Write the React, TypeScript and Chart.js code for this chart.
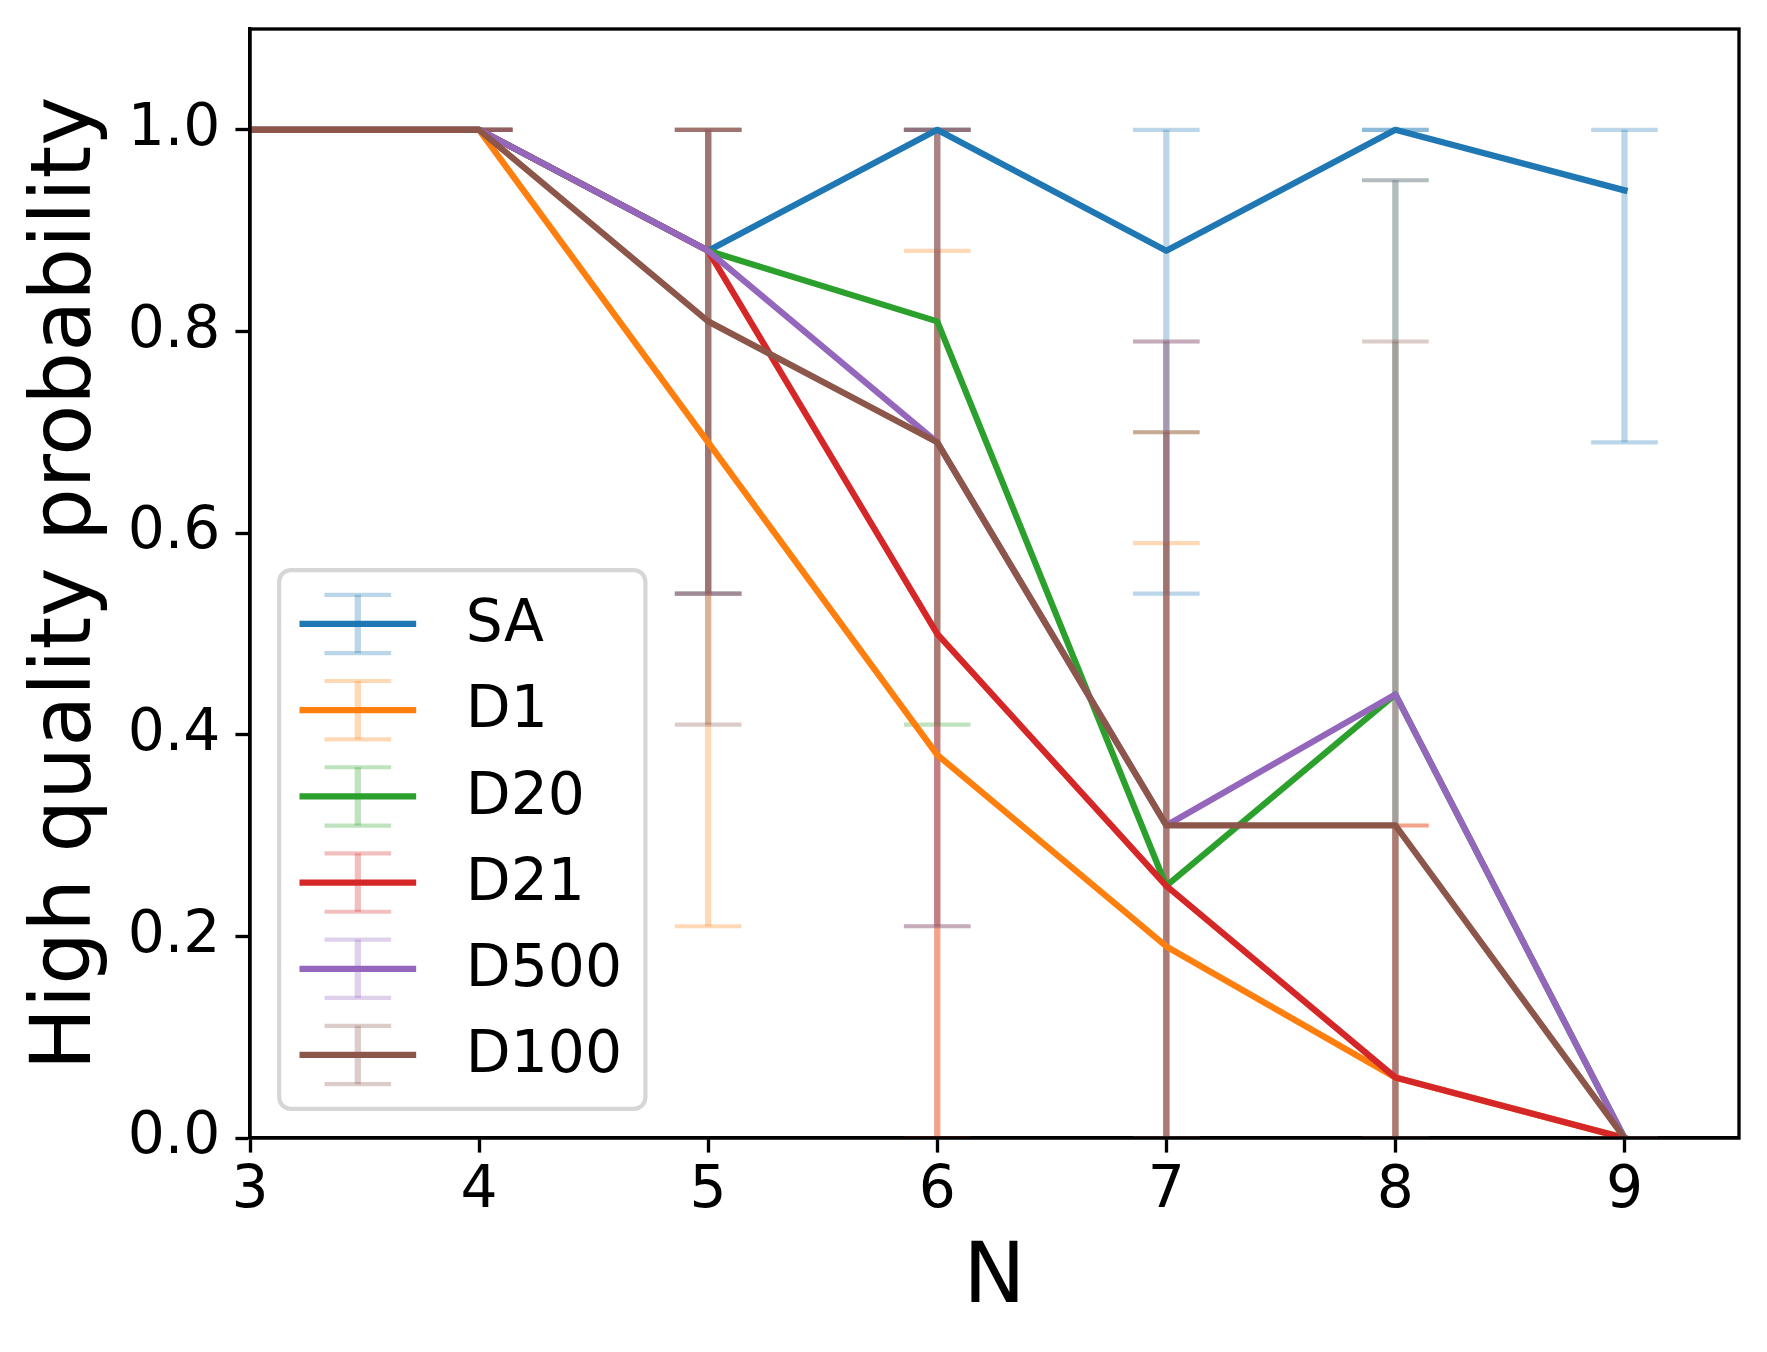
import React, { useEffect, useRef } from 'react';
import { Chart, registerables } from 'chart.js';

Chart.register(...registerables);

// ---------- data ----------
const xValues = [3, 4, 5, 6, 7, 8, 9];
const xTickValues = [3, 4, 5, 6, 7, 8, 9];
const yTickValues = [0, 0.2, 0.4, 0.6, 0.8, 1.0];

const seriesNames = ['SA', 'D1', 'D20', 'D21', 'D500', 'D100'];
const seriesColors = ['#1f77b4', '#ff7f0e', '#2ca02c', '#d62728', '#9467bd', '#8c564b'];

const saMean = [1, 1, 0.88, 1, 0.88, 1, 0.94];
const saLow = [1, 1, 0.54, 1, 0.54, 1, 0.69];
const saHigh = [1, 1, 1, 1, 1, 1, 1];

const d1Mean = [1, 1, 0.69, 0.38, 0.19, 0.06, 0];
const d1Low = [1, 1, 0.21, 0, 0, 0, 0];
const d1High = [1, 1, 1, 0.88, 0.59, 0.31, 0];

const d20Mean = [1, 1, 0.88, 0.81, 0.25, 0.44, 0];
const d20Low = [1, 1, 0.54, 0.41, 0, 0, 0];
const d20High = [1, 1, 1, 1, 0.7, 0.95, 0];

const d21Mean = [1, 1, 0.88, 0.5, 0.25, 0.06, 0];
const d21Low = [1, 1, 0.54, 0, 0, 0, 0];
const d21High = [1, 1, 1, 1, 0.7, 0.31, 0];

const d500Mean = [1, 1, 0.88, 0.69, 0.31, 0.44, 0];
const d500Low = [1, 1, 0.54, 0.21, 0, 0, 0];
const d500High = [1, 1, 1, 1, 0.79, 0.95, 0];

const d100Mean = [1, 1, 0.81, 0.69, 0.31, 0.31, 0];
const d100Low = [1, 1, 0.41, 0.21, 0, 0, 0];
const d100High = [1, 1, 1, 1, 0.79, 0.79, 0];

const means = [saMean, d1Mean, d20Mean, d21Mean, d500Mean, d100Mean];
const lows = [saLow, d1Low, d20Low, d21Low, d500Low, d100Low];
const highs = [saHigh, d1High, d20High, d21High, d500High, d100High];

// ---------- style constants (matplotlib @300dpi) ----------
const PT = 300 / 72;
const LINE_W = 1.5 * PT;
const SPINE_W = 0.8 * PT;
const CAP = 8 * PT;
const CAP_THICK = 1.0 * PT;
const TICK_FONT = 14 * PT;
const LABEL_FONT = 20 * PT;
const FONT_FAMILY = '"DejaVu Sans", "Liberation Sans", sans-serif';

function hexA(hex: string, a: number) {
  const r = parseInt(hex.slice(1, 3), 16);
  const g = parseInt(hex.slice(3, 5), 16);
  const b = parseInt(hex.slice(5, 7), 16);
  return `rgba(${r},${g},${b},${a})`;
}

const errorBarPlugin = {
  id: 'errorBars',
  beforeDatasetsDraw(chart: any) {
    const { ctx, chartArea, scales } = chart;
    const xs = scales.x;
    const ys = scales.y;
    ctx.save();
    ctx.beginPath();
    ctx.rect(chartArea.left, chartArea.top, chartArea.right - chartArea.left, chartArea.bottom - chartArea.top);
    ctx.clip();
    for (let s = 0; s < seriesNames.length; s++) {
      const col = hexA(seriesColors[s], 0.3);
      ctx.strokeStyle = col;
      for (let j = 0; j < xValues.length; j++) {
        const px = xs.getPixelForValue(xValues[j]);
        const pLo = ys.getPixelForValue(lows[s][j]);
        const pHi = ys.getPixelForValue(highs[s][j]);
        ctx.lineCap = 'butt';
        ctx.lineWidth = LINE_W;
        ctx.beginPath();
        ctx.moveTo(px, pLo);
        ctx.lineTo(px, pHi);
        ctx.stroke();
      }
      for (let j = 0; j < xValues.length; j++) {
        const px = xs.getPixelForValue(xValues[j]);
        const pLo = ys.getPixelForValue(lows[s][j]);
        const pHi = ys.getPixelForValue(highs[s][j]);
        ctx.lineWidth = CAP_THICK;
        for (const py of [pLo, pHi]) {
          ctx.beginPath();
          ctx.moveTo(px - CAP, py);
          ctx.lineTo(px + CAP, py);
          ctx.stroke();
        }
      }
    }
    ctx.restore();
  },
  afterDatasetsDraw(chart: any) {
    const { ctx, chartArea } = chart;
    ctx.save();
    ctx.strokeStyle = '#000';
    ctx.lineWidth = SPINE_W;
    ctx.lineJoin = 'miter';
    ctx.strokeRect(chartArea.left, chartArea.top, chartArea.right - chartArea.left, chartArea.bottom - chartArea.top);
    ctx.restore();
  },
  afterDraw(chart: any) {
    const { ctx, chartArea } = chart;
    const fs = TICK_FONT;
    const pad = 0.5 * fs;
    const borderPad = 0.4 * fs;
    const handleLen = 2.0 * fs;
    const handleTextPad = 0.8 * fs;
    const rowH = 86.2;
    ctx.save();
    ctx.font = `${fs}px ${FONT_FAMILY}`;
    let maxW = 0;
    for (const n of seriesNames) maxW = Math.max(maxW, ctx.measureText(n).width);
    const boxLeft = chartArea.left + pad;
    const boxBottom = chartArea.bottom - pad;
    const boxH = rowH * seriesNames.length + 2 * borderPad - 0.5 * fs + 4;
    const boxTop = boxBottom - boxH;
    const boxW = borderPad * 2 + handleLen + handleTextPad + maxW;
    const r = 0.2 * fs;
    ctx.beginPath();
    ctx.roundRect(boxLeft, boxTop, boxW, boxH, r);
    ctx.fillStyle = 'rgba(255,255,255,0.8)';
    ctx.fill();
    ctx.lineWidth = 1.0 * PT;
    ctx.strokeStyle = 'rgba(204,204,204,0.8)';
    ctx.stroke();

    const hx0 = boxLeft + borderPad - 3;
    const hx1 = hx0 + handleLen;
    const hxc = (hx0 + hx1) / 2;
    const firstY = boxTop + borderPad + 0.5 * rowH - 0.25 * fs + 2;
    for (let i = 0; i < seriesNames.length; i++) {
      const cy = firstY + i * rowH;
      const c = seriesColors[i];
      ctx.strokeStyle = hexA(c, 0.3);
      ctx.lineWidth = LINE_W;
      ctx.lineCap = 'butt';
      ctx.beginPath();
      ctx.moveTo(hxc, cy - 0.5 * fs);
      ctx.lineTo(hxc, cy + 0.5 * fs);
      ctx.stroke();
      ctx.lineWidth = CAP_THICK;
      for (const py of [cy - 0.5 * fs, cy + 0.5 * fs]) {
        ctx.beginPath();
        ctx.moveTo(hxc - CAP, py);
        ctx.lineTo(hxc + CAP, py);
        ctx.stroke();
      }
      ctx.strokeStyle = c;
      ctx.lineWidth = LINE_W;
      ctx.beginPath();
      ctx.moveTo(hx0, cy);
      ctx.lineTo(hx1, cy);
      ctx.stroke();
      ctx.fillStyle = '#000';
      ctx.textAlign = 'left';
      ctx.textBaseline = 'middle';
      ctx.fillText(seriesNames[i], hx1 + handleTextPad + 3, cy + 2);
    }
    ctx.restore();
  },
};

export default function App() {
  const canvasRef = useRef<HTMLCanvasElement | null>(null);

  useEffect(() => {
    const canvas = canvasRef.current;
    if (!canvas) return;
    const n = seriesNames.length;
    const datasets = seriesNames.map((name, s) => ({
      label: name,
      data: xValues.map((x, j) => ({ x, y: means[s][j] })),
      borderColor: seriesColors[s],
      backgroundColor: seriesColors[s],
      borderWidth: LINE_W,
      borderJoinStyle: 'round' as const,
      borderCapStyle: 'square' as const,
      pointRadius: 0,
      pointHoverRadius: 0,
      fill: false,
      tension: 0,
      clip: 0,
      order: n - s,
    }));

    const chart = new Chart(canvas, {
      type: 'line',
      data: { datasets },
      plugins: [errorBarPlugin],
      options: {
        animation: false,
        responsive: false,
        devicePixelRatio: 1,
        events: [],
        layout: { padding: { left: 0, top: 29, right: 28, bottom: 0 } },
        plugins: {
          legend: { display: false },
          tooltip: { enabled: false },
          title: { display: false },
        },
        scales: {
          x: {
            type: 'linear',
            min: 3,
            max: 9.5,
            afterFit: (scale: any) => {
              scale.height = 214;
              scale.paddingLeft = 0;
              scale.paddingRight = 0;
            },
            afterBuildTicks: (scale: any) => {
              scale.ticks = xTickValues.map((v) => ({ value: v }));
            },
            ticks: {
              autoSkip: false,
              maxRotation: 0,
              minRotation: 0,
              padding: 4,
              color: '#000',
              font: { family: FONT_FAMILY, size: TICK_FONT, lineHeight: 1.2 },
              callback: (v: any) => String(v),
            },
            grid: {
              drawOnChartArea: false,
              drawTicks: true,
              tickLength: 3.5 * PT,
              tickWidth: SPINE_W,
              tickColor: '#000',
            },
            border: { display: true, color: '#000', width: SPINE_W },
            title: {
              display: true,
              text: 'N',
              color: '#000',
              font: { family: FONT_FAMILY, size: LABEL_FONT, lineHeight: 1.2 },
              padding: { top: 0, bottom: 22 },
            },
          },
          y: {
            type: 'linear',
            min: 0,
            max: 1.1,
            afterFit: (scale: any) => {
              scale.width = 250;
              scale.paddingTop = 0;
              scale.paddingBottom = 0;
            },
            afterBuildTicks: (scale: any) => {
              scale.ticks = yTickValues.map((v) => ({ value: v }));
            },
            ticks: {
              padding: 15,
              color: '#000',
              font: { family: FONT_FAMILY, size: TICK_FONT, lineHeight: 1.2 },
              callback: (v: any) => Number(v).toFixed(1),
            },
            grid: {
              drawOnChartArea: false,
              drawTicks: true,
              tickLength: 3.5 * PT,
              tickWidth: SPINE_W,
              tickColor: '#000',
            },
            border: { display: true, color: '#000', width: SPINE_W },
            title: {
              display: true,
              text: 'High quality probability',
              color: '#000',
              font: { family: FONT_FAMILY, size: LABEL_FONT, lineHeight: 1.2 },
              padding: { top: 18, bottom: 0 },
            },
          },
        },
      } as any,
    });
    return () => chart.destroy();
  }, []);

  return (
    <div style={{ position: 'absolute', left: 0, top: 0, width: 1767, height: 1352, background: '#fff' }}>
      <canvas ref={canvasRef} width={1767} height={1352} style={{ width: 1767, height: 1352, display: 'block' }} />
    </div>
  );
}
